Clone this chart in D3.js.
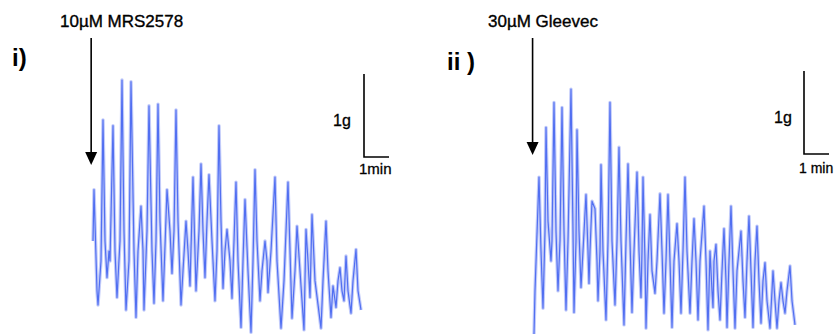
<!DOCTYPE html>
<html>
<head>
<meta charset="utf-8">
<script src="https://cdn.jsdelivr.net/npm/d3@7"></script>
<style>
  html, body { margin: 0; padding: 0; background: #fff; }
  svg { display: block; }
  text { font-family: "Liberation Sans", Arial, sans-serif; fill: #000; }
</style>
</head>
<body>
<svg id="chart" width="834" height="334"></svg>
<script>
// trace i) 10uM MRS2578 -- time (s), tension (g)
const timesI = [2.4, 4.8, 12, 14.4, 21.6, 26.4, 31.2, 36, 40.8, 43.2, 50.4, 55.2, 60, 67.2, 72, 76.8, 81.6, 88.8,
  93.6, 100.8, 105.6, 110.4, 117.6, 122.4, 124.8, 132, 136.8, 144, 148.8, 153.6, 158.4, 163.2, 170.4, 175.2,
  180, 187.2, 192, 196.8, 201.6, 206.4, 213.6, 218.4, 225.6, 230.4, 235.2, 242.4, 249.6, 256.8, 261.6, 266.4,
  271.2, 276, 280.8, 288, 295.2, 300, 304.8, 309.6, 314.4, 319.2, 324, 331.2, 336, 340.8, 345.6, 350.4, 357.6,
  362.4, 367.2, 374.4, 381.6, 386.4, 391.2, 396, 403.2, 408, 415.2, 420, 422.4, 429.6, 439.2, 444, 453.6,
  460.8, 470.4, 475.2, 480, 487.2, 492, 499.2, 508.8, 513.6, 518.4, 523.2, 528, 535.2, 549.6, 554.4, 561.6,
  566.4, 573.6, 578.4, 585.6, 590.4, 595.2, 600, 604.8, 609.6, 614.4, 621.6, 626.4, 633.6, 638.4, 645.6];
const forceI = [1.12, 1.74, 0.52, 0.35, 0.88, 2.58, 1.12, 0.68, 1.00, 0.88, 2.51, 1.00, 0.44, 1.12, 3.06, 1.24, 0.29, 0.88,
  3.04, 1.00, 0.20, 1.00, 1.54, 1.00, 0.29, 1.24, 2.75, 1.00, 0.37, 1.12, 2.77, 1.36, 0.40, 1.06,
  1.74, 1.24, 0.73, 1.24, 2.70, 1.36, 0.35, 0.76, 1.36, 1.00, 0.58, 1.89, 0.52, 1.24, 2.05, 1.24,
  0.68, 1.36, 1.92, 1.12, 0.40, 1.00, 2.51, 1.36, 0.55, 1.00, 1.26, 0.88, 0.43, 1.12, 1.83, 0.88, 0.08,
  0.88, 1.62, 0.76, 0.02, 0.88, 1.98, 1.12, 0.40, 0.76, 1.12, 0.88, 0.50, 1.00, 1.89, 0.88, 0.07,
  0.64, 1.83, 1.00, 0.19, 0.76, 1.30, 0.76, 0.05, 1.26, 0.88, 0.44, 1.44, 0.64, 0.07, 0.64, 1.36,
  0.76, 0.20, 0.58, 0.32, 0.64, 0.80, 0.52, 0.40, 0.94, 0.52, 0.25, 0.64, 1.02, 0.52, 0.29];

// trace ii) 30uM Gleevec -- time (s), tension (g)
const timesII = [2.4, 4.8, 14.4, 19.2, 24, 28.8, 31.2, 36, 43.2, 45.6, 50.4, 55.2, 60, 64.8, 69.6, 74.4, 79.2, 84,
  91.2, 96, 98.4, 103.2, 105.6, 110.4, 115.2, 120, 127.2, 132, 134.4, 136.8, 141.6, 148.8, 153.6, 156, 160.8,
  163.2, 168, 175.2, 180, 184.8, 189.6, 196.8, 201.6, 206.4, 211.2, 218.4, 223.2, 228, 232.8, 237.6, 242.4,
  249.6, 254.4, 259.2, 261.6, 264, 268.8, 271.2, 276, 280.8, 285.6, 292.8, 297.6, 304.8, 309.6, 314.4, 319.2,
  324, 328.8, 333.6, 338.4, 345.6, 350.4, 355.2, 360, 364.8, 369.6, 376.8, 381.6, 386.4, 391.2, 396, 400.8,
  410.4, 415.2, 420, 424.8, 429.6, 432, 434.4, 439.2, 444, 448.8, 453.6, 458.4, 463.2, 465.6, 470.4, 475.2,
  480, 484.8, 489.6, 499.2, 504, 508.8, 513.6, 518.4, 523.2, 528, 532.8, 537.6, 542.4, 547.2, 552, 556.8,
  561.6, 568.8, 573.6, 576, 580.8, 585.6, 590.4, 595.2, 600, 604.8, 609.6, 616.8, 621.6, 628.8];
const forceII = [0.00, 0.52, 1.89, 1.00, 0.31, 1.24, 2.49, 1.36, 0.88, 1.12, 2.79, 1.24, 0.52, 1.12, 2.73, 1.24, 0.29, 1.12,
  2.95, 1.24, 0.26, 1.12, 2.46, 1.24, 0.56, 1.00, 1.68, 1.00, 0.61, 1.00, 1.60, 1.51, 0.88, 0.40, 1.00,
  2.04, 1.00, 0.17, 1.12, 2.79, 1.12, 0.35, 1.12, 2.25, 1.12, 0.11, 1.12, 2.05, 1.12, 0.26, 1.00,
  1.95, 1.00, 0.44, 1.00, 1.89, 0.88, 0.07, 0.88, 1.44, 0.76, 0.49, 0.88, 1.69, 1.00, 0.25, 0.88,
  1.68, 0.88, 0.08, 0.88, 1.33, 0.88, 0.25, 1.00, 1.89, 1.00, 0.25, 0.88, 1.39, 0.88, 0.17, 0.88,
  1.54, 0.88, 0.05, 1.00, 0.52, 0.32, 0.88, 1.08, 0.52, 0.17, 0.76, 1.27, 0.64, 0.08, 0.88, 1.54,
  0.76, 0.07, 0.76, 1.24, 0.64, 0.20, 0.88, 1.42, 0.76, 0.08, 0.88, 1.30, 0.64, 0.13, 0.64, 0.86,
  0.40, 0.07, 0.52, 0.76, 0.40, 0.07, 0.40, 0.62, 0.40, 0.25, 0.52, 0.82, 0.40, 0.11];

const panelLabels = ['i)', 'ii )'];
const drugLabels = ['10\u00b5M MRS2578', '30\u00b5M Gleevec'];
const scaleBarLabels = [['1g', '1min'], ['1g', '1 min']];

const svg = d3.select('#chart');

// layout per panel (pixels)
const panels = [
  { t: timesI, f: forceI, x0: 92, label: { x: 12, y: 66 }, drug: { x: 60, y: 27 }, arrowT: -2, arrowTop: 38, arrowTip: 165,
    bar: { x: 364, bottom: 157 }, gLabel: { x: 333, y: 126 }, minLabel: { x: 359, y: 174 }, minSize: 15 },
  { t: timesII, f: forceII, x0: 533, label: { x: 447, y: 70 }, drug: { x: 488, y: 27 }, arrowT: -1, arrowTop: 38, arrowTip: 155,
    bar: { x: 804, bottom: 154 }, gLabel: { x: 774, y: 123 }, minLabel: { x: 799, y: 173 }, minSize: 14 },
];

const pxPerMin = 25;
const pxPerGram = 83;
const baseY = 334;

panels.forEach((p, i) => {
  const x = d3.scaleLinear().domain([0, 60]).range([p.x0, p.x0 + pxPerMin]);
  const y = d3.scaleLinear().domain([0, 1]).range([baseY, baseY - pxPerGram]);
  const pts = p.t.map((t, k) => [t, p.f[k]]);

  const line = d3.line()
    .x(d => x(d[0]))
    .y(d => y(d[1]));

  const g = svg.append('g').classed('panel', true);

  // soft halo + core, mimics the scanned trace
  g.append('path')
    .attr('d', line(pts))
    .attr('fill', 'none')
    .attr('stroke', '#c3ccfa')
    .attr('stroke-width', 3.4)
    .attr('stroke-linejoin', 'round');
  g.append('path')
    .attr('d', line(pts))
    .attr('fill', 'none')
    .attr('stroke', '#3558ef')
    .attr('stroke-opacity', 0.8)
    .attr('stroke-width', 1.2)
    .attr('stroke-linejoin', 'round');

  // drug addition arrow
  const ax = x(p.arrowT);
  g.append('line')
    .attr('x1', ax).attr('x2', ax)
    .attr('y1', p.arrowTop).attr('y2', p.arrowTip - 12)
    .attr('stroke', '#000').attr('stroke-width', 1.6);
  g.append('path')
    .attr('d', `M${ax - 6},${p.arrowTip - 13} L${ax + 6},${p.arrowTip - 13} L${ax},${p.arrowTip} Z`)
    .attr('fill', '#000');

  g.append('text')
    .attr('x', p.drug.x).attr('y', p.drug.y)
    .attr('font-size', 17)
    .attr('stroke', '#000').attr('stroke-width', 0.35)
    .text(drugLabels[i]);

  g.append('text')
    .attr('x', p.label.x).attr('y', p.label.y)
    .attr('font-size', 24)
    .attr('font-weight', 'bold')
    .text(panelLabels[i]);

  // scale bars: 1 g and 1 min
  const barH = y(0) - y(1);
  const barW = x(60) - x(0);
  g.append('path')
    .attr('d', `M${p.bar.x},${p.bar.bottom - barH} V${p.bar.bottom} H${p.bar.x + barW}`)
    .attr('fill', 'none')
    .attr('stroke', '#000')
    .attr('stroke-width', 1.6);
  g.append('text')
    .attr('x', p.gLabel.x).attr('y', p.gLabel.y)
    .attr('font-size', 16)
    .attr('stroke', '#000').attr('stroke-width', 0.3)
    .text(scaleBarLabels[i][0]);
  g.append('text')
    .attr('x', p.minLabel.x).attr('y', p.minLabel.y)
    .attr('font-size', p.minSize)
    .attr('stroke', '#000').attr('stroke-width', 0.3)
    .text(scaleBarLabels[i][1]);
});
</script>
</body>
</html>
